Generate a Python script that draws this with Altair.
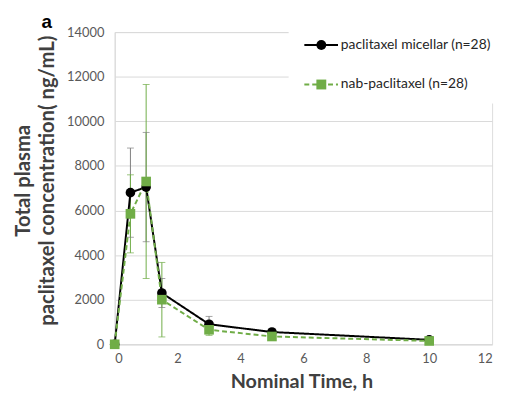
import altair as alt
import pandas as pd

time_h = [0, 0.5, 1, 1.5, 3, 5, 10]
micellar = [0, 6800, 7050, 2300, 900, 550, 200]
micellar_sd = [0, 2000, 2450, 650, 350, 100, 80]
nab = [0, 5850, 7300, 2000, 650, 350, 150]
nab_sd = [0, 1750, 4350, 1670, 250, 100, 60]

series_names = ["paclitaxel micellar (n=28)", "nab-paclitaxel (n=28)"]
series_colors = ["#000000", "#70AD47"]
err_colors = ["#7F7F7F", "#70AD47"]
marker_shapes = ["circle", "square"]
panel_label = ["a"]

# legend rows (placed in data space, inside the plot's top-right corner)
legend_row_y = [13424, 11650]

rows = []
for name, vals, sds, ec, mk in [
    (series_names[0], micellar, micellar_sd, err_colors[0], marker_shapes[0]),
    (series_names[1], nab, nab_sd, err_colors[1], marker_shapes[1]),
]:
    for t, v, s in zip(time_h, vals, sds):
        rows.append({"time": t, "conc": v, "lo": v - s, "hi": v + s,
                     "series": name, "ecolor": ec, "marker": mk})
df = pd.DataFrame(rows)
leg_df = pd.DataFrame({"series": series_names, "ly": legend_row_y,
                       "marker": marker_shapes})

font = "Lato"

x = alt.X("time:Q", scale=alt.Scale(domain=[0, 12]),
          axis=alt.Axis(values=[0, 2, 4, 6, 8, 10, 12], title="Nominal Time, h",
                        grid=False, ticks=False, domainColor="#D9D9D9",
                        labelFont=font, labelFontSize=13, labelColor="#595959",
                        labelPadding=8, titleFont=font, titleFontSize=20,
                        titleFontWeight="bold", titleColor="#404040",
                        titlePadding=7, titleX=189))
y = alt.Y("conc:Q", scale=alt.Scale(domain=[0, 14000]),
          axis=alt.Axis(values=list(range(0, 14001, 2000)), format="d",
                        title=["Total plasma", "paclitaxel concentration( ng/mL)"],
                        grid=True, gridColor="#D9D9D9", ticks=False,
                        domainColor="#D9D9D9", labelFont=font, labelFontSize=13,
                        labelColor="#595959", labelPadding=11, titleFont=font,
                        titleFontSize=20.5, titleFontWeight="bold",
                        titleColor="#404040", titleLineHeight=25,
                        titlePadding=9, titleY=150))

scale_color = alt.Scale(domain=series_names, range=series_colors)
dash_scale = alt.Scale(domain=series_names, range=[[1, 0], [5, 3]])

base = alt.Chart(df)

err = base.mark_rule(strokeWidth=1).encode(
    x="time:Q", y="lo:Q", y2="hi:Q",
    color=alt.Color("ecolor:N", scale=None))
cap_lo = base.mark_tick(size=7, thickness=1, orient="horizontal").encode(
    x="time:Q", y="lo:Q", color=alt.Color("ecolor:N", scale=None))
cap_hi = base.mark_tick(size=7, thickness=1, orient="horizontal").encode(
    x="time:Q", y="hi:Q", color=alt.Color("ecolor:N", scale=None))

lines = base.mark_line(strokeWidth=2).encode(
    x=x, y=y,
    color=alt.Color("series:N", scale=scale_color, legend=None),
    strokeDash=alt.StrokeDash("series:N", scale=dash_scale, legend=None),
    detail="series:N")

points = base.mark_point(filled=True, opacity=1, size=95).encode(
    x="time:Q", y="conc:Q",
    color=alt.Color("series:N", scale=scale_color, legend=None),
    shape=alt.Shape("marker:N", scale=None))

# legend, drawn through the chart's own scales
lbase = alt.Chart(leg_df)
leg_bg = alt.Chart(pd.DataFrame({"k": [0]})).mark_rect(color="white").encode(
    x=alt.datum(5.53), x2=alt.datum(12.2), y=alt.datum(10800), y2=alt.datum(14300))
leg_line = lbase.mark_rule(strokeWidth=2).encode(
    x=alt.datum(6.03), x2=alt.datum(7.10), y="ly:Q",
    color=alt.Color("series:N", scale=scale_color, legend=None),
    strokeDash=alt.StrokeDash("series:N", scale=dash_scale, legend=None))
leg_pt = lbase.mark_point(filled=True, opacity=1, size=100).encode(
    x=alt.datum(6.57), y="ly:Q",
    color=alt.Color("series:N", scale=scale_color, legend=None),
    shape=alt.Shape("marker:N", scale=None))
leg_txt = lbase.mark_text(font=font, fontSize=14, color="#262626",
                          align="left", baseline="middle").encode(
    x=alt.datum(7.19), y="ly:Q", text="series:N")

label = alt.Chart(pd.DataFrame({"t": panel_label})).mark_text(
    font="Liberation Sans", fontSize=19, fontWeight="bold", color="#000000",
    align="left", baseline="alphabetic").encode(
    text="t:N", x=alt.value(-74), y=alt.value(-4.5))

chart = alt.layer(err, cap_lo, cap_hi, lines, points,
                  leg_bg, leg_line, leg_pt, leg_txt, label).properties(
    width=382, height=316,
    padding={"left": 108, "top": 22, "right": 8, "bottom": 54},
    autosize=alt.AutoSizeParams(type="none"),
).configure_view(stroke=None).configure(background="white")

chart.save("out.html", embed_options={"renderer": "svg", "actions": False})
